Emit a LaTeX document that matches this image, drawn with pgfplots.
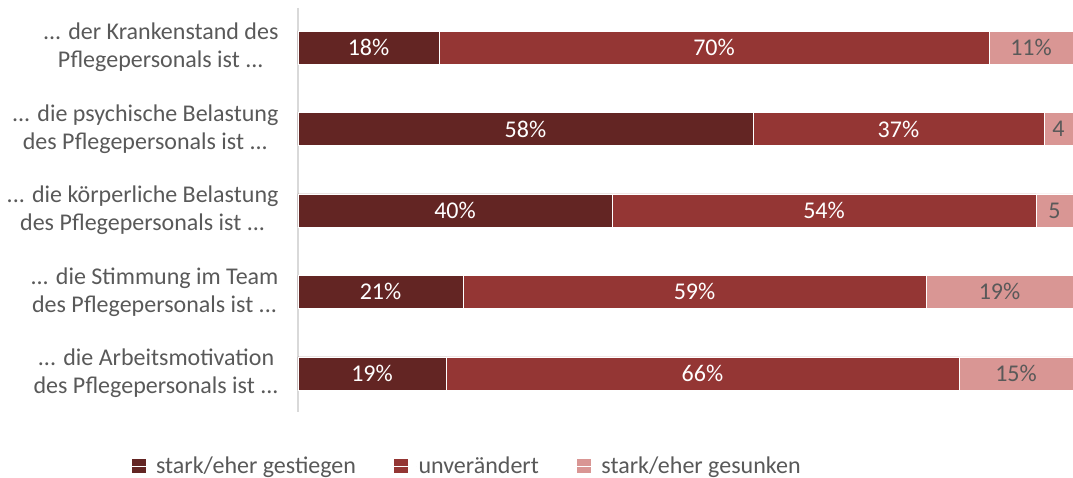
\documentclass[border=0pt]{standalone}
\usepackage{fontspec}
\setmainfont{Carlito}
\usepackage{pgfplots}
\pgfplotsset{compat=1.18}
\definecolor{cDark}{HTML}{632523}
\definecolor{cMid}{HTML}{943634}
\definecolor{cLight}{HTML}{D99694}
\definecolor{txt}{HTML}{595959}
\definecolor{axgrey}{HTML}{D9D9D9}
\DeclareRobustCommand\dd{...}

\pgfplotsset{
  base/.style={
    scale only axis, width=775pt, height=404pt,
    xmin=0, xmax=100, ymin=-0.485, ymax=4.475, y dir=reverse,
  },
  lbl/.style={draw=none, mark=none, nodes near coords, point meta=explicit symbolic,
    nodes near coords align={center},
    every node near coord/.append style={text=#1, font=\fontsize{24}{28}\selectfont}},
}

\begin{document}
\begin{tikzpicture}
\begin{axis}[base, name=ax,
  xbar stacked, bar width=33pt,
  axis x line=none, axis y line*=left,
  y axis line style={draw=axgrey, line width=1.2pt, -},
  ytick={0,1,2,3,4}, major tick length=0pt,
  yticklabels={
    {\dd{} der Krankenstand des\\Pflegepersonals ist \dd},
    {\dd{} die psychische Belastung\\des Pflegepersonals ist \dd},
    {\dd{} die körperliche Belastung\\des Pflegepersonals ist \dd},
    {\dd{} die Stimmung im Team\\des Pflegepersonals ist \dd},
    {\dd{} die Arbeitsmotivation\\des Pflegepersonals ist \dd}},
  yticklabel style={align=center, text=txt, font=\fontsize{24}{28}\selectfont, xshift=-16pt},
  legend columns=3,
  legend style={draw=none, at={(axis description cs:-0.219,-0.134)}, anchor=west,
    font=\fontsize{24}{28}\selectfont, text=txt,
    /tikz/every even column/.append style={column sep=36pt}},
  legend image code/.code={\fill[#1,draw=none] (0pt,-7pt) rectangle (14pt,7pt);
    \path (0pt,0pt) -- (22pt,0pt);},
]
% stark/eher gestiegen
\addplot[fill=cDark, draw=white, line width=0.6pt] table {
x y
18.19 0
58.71 1
40.52 2
21.29 3
19.10 4
};
\addlegendentry{stark/eher gestiegen}
% unveraendert
\addplot[fill=cMid, draw=white, line width=0.6pt] table {
x y
70.97 0
37.55 1
54.71 2
59.74 3
66.19 4
};
\addlegendentry{unverändert}
% stark/eher gesunken
\addplot[fill=cLight, draw=white, line width=0.6pt] table {
x y
10.84 0
3.74 1
4.77 2
18.97 3
14.71 4
};
\addlegendentry{stark/eher gesunken}
\end{axis}

% labels centred in each segment
\begin{axis}[base, hide axis]
\addplot[lbl=white] table[meta=l] {
x y l
9.10 0 18\%
29.35 1 58\%
20.26 2 40\%
10.65 3 21\%
9.55 4 19\%
};
\addplot[lbl=white] table[meta=l] {
x y l
53.68 0 70\%
77.48 1 37\%
67.87 2 54\%
51.16 3 59\%
52.19 4 66\%
};
\addplot[lbl=txt] table[meta=l] {
x y l
94.58 0 11\%
98.13 1 4
97.61 2 5
90.52 3 19\%
92.65 4 15\%
};
\end{axis}

\pgfresetboundingbox
\path ([xshift=-298pt, yshift=-66pt]ax.south west) rectangle ([yshift=8pt]ax.north east);
\end{tikzpicture}
\end{document}
